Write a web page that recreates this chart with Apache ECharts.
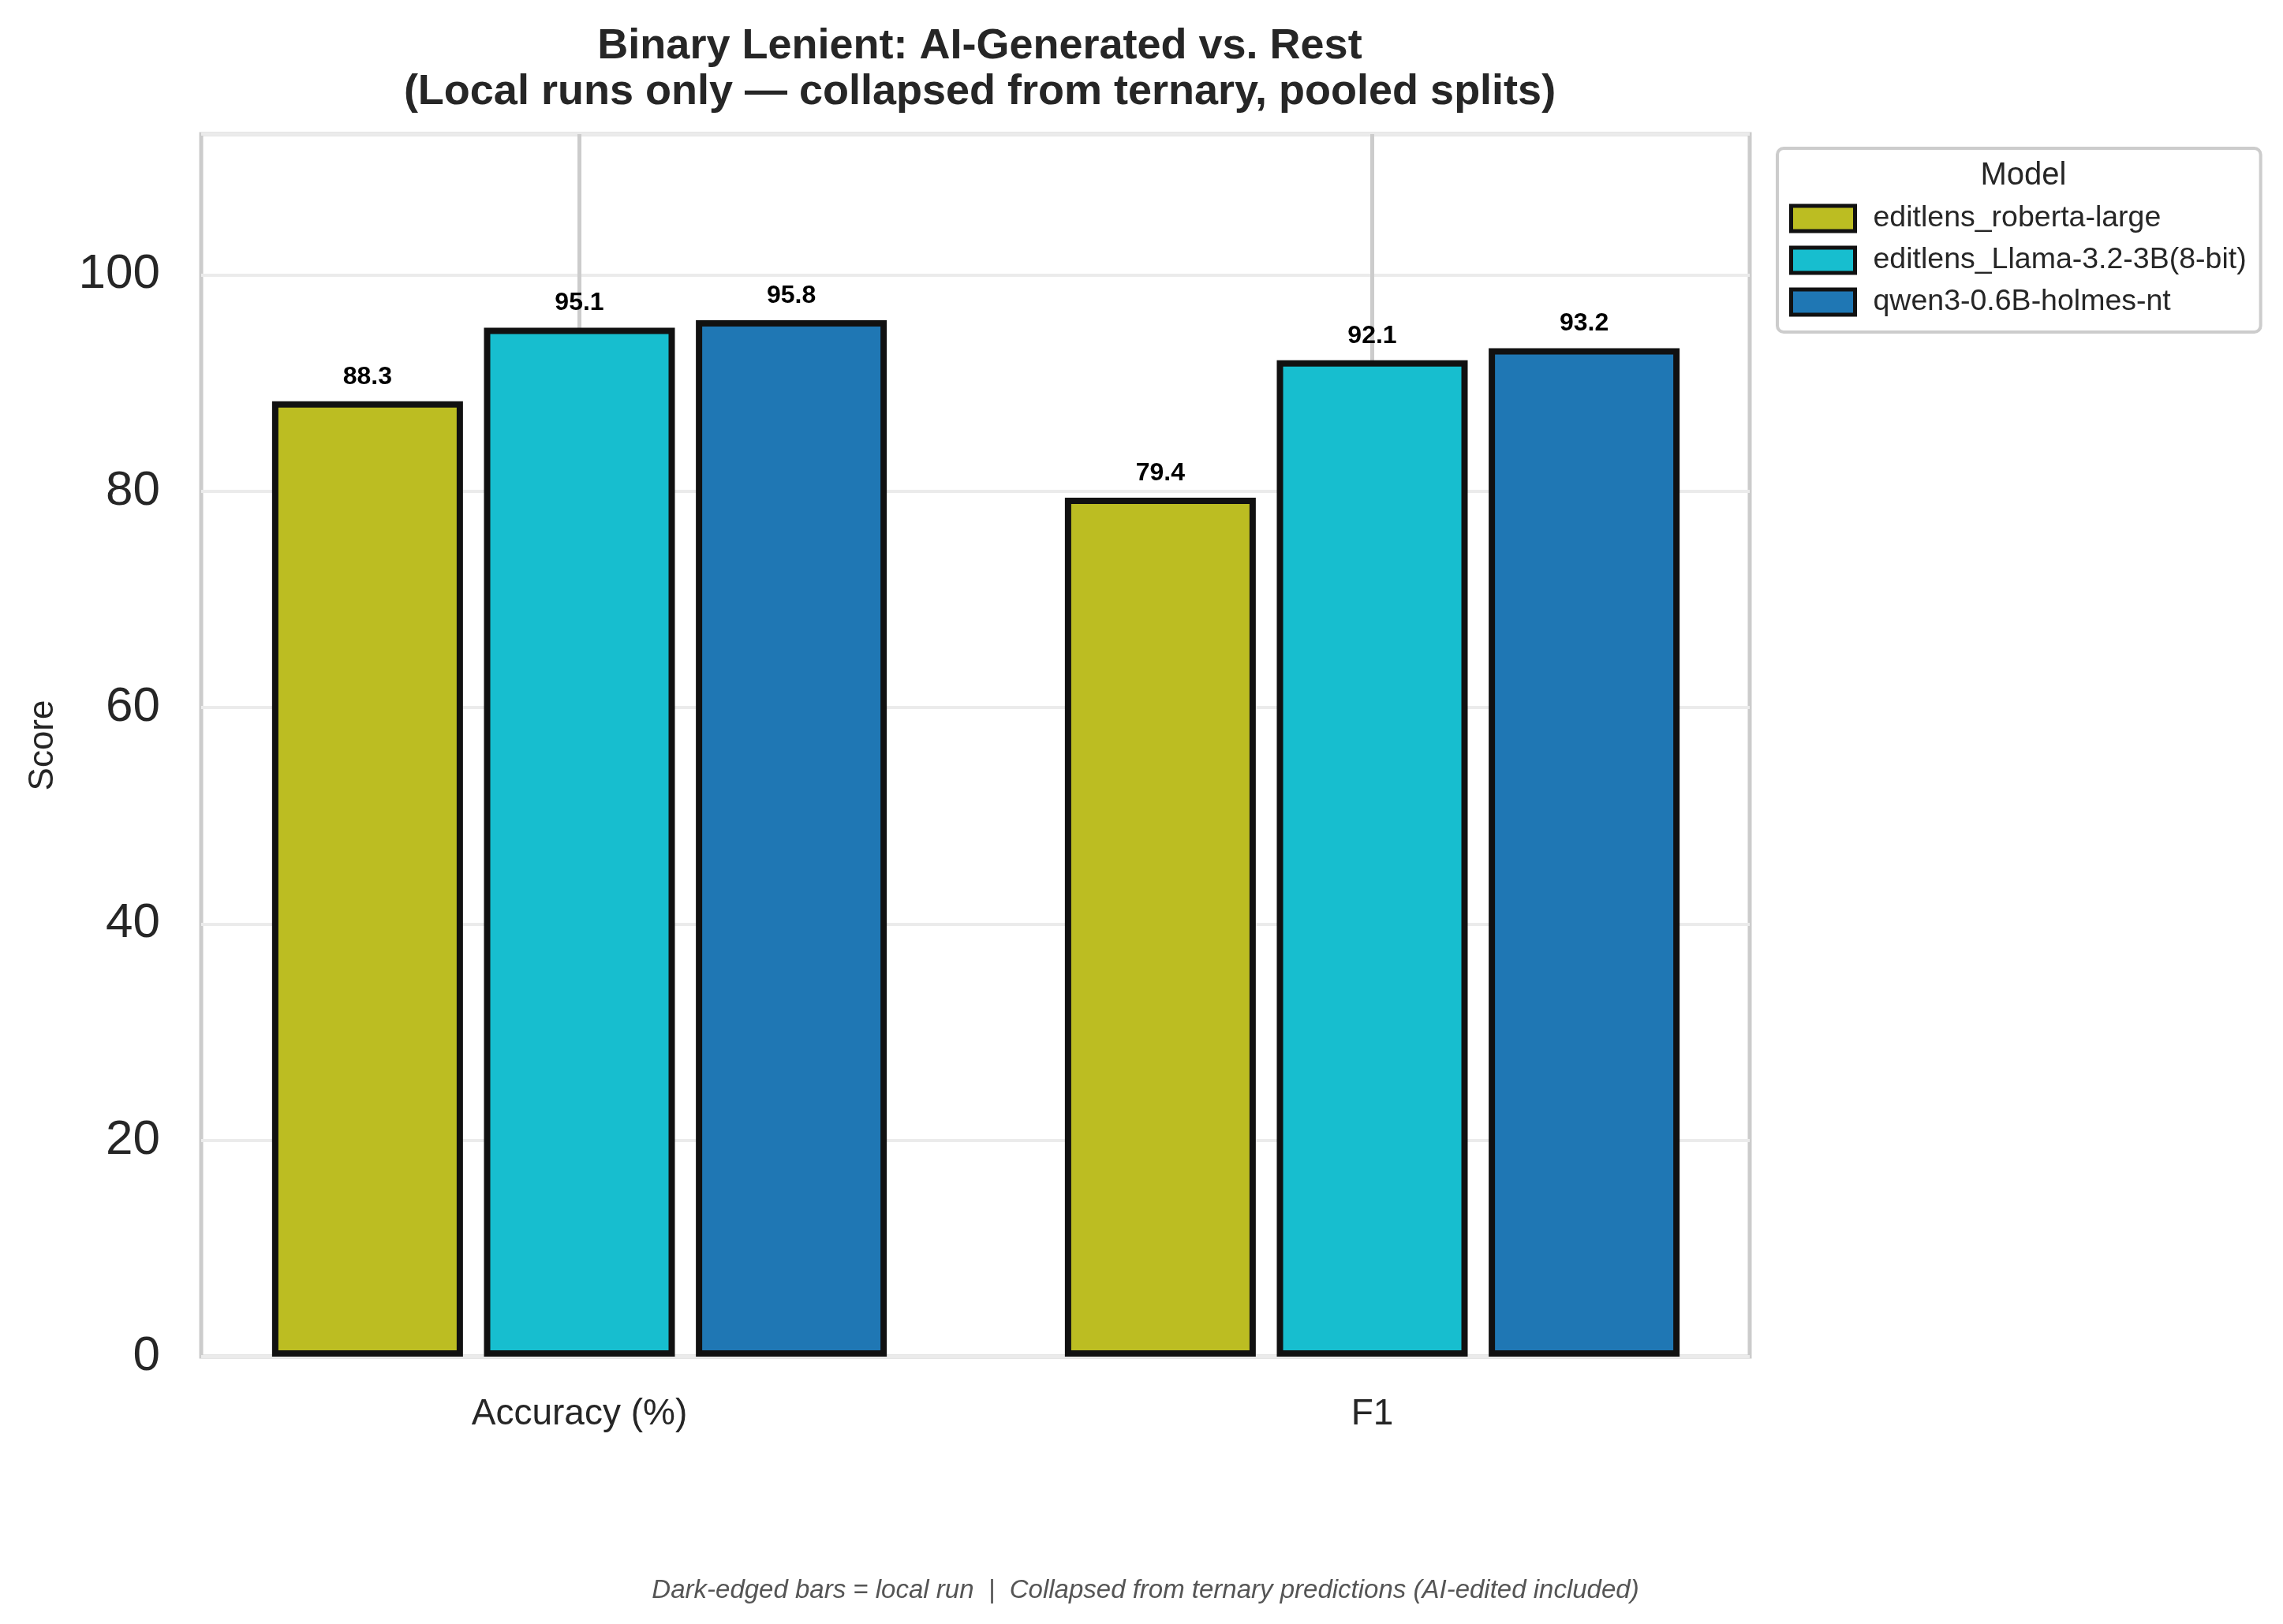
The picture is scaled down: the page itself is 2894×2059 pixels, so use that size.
<!DOCTYPE html>
<html>
<head>
    <meta charset="utf-8">
    <title>Binary Lenient</title>
    <script src="https://cdn.jsdelivr.net/npm/echarts@6/dist/echarts.min.js"></script>
    <style>
        html, body { margin: 0; padding: 0; background: #fff; }
        #main { width: 2894px; height: 2059px; }
    </style>
</head>
<body>
<div id="main"></div>
<script type="text/javascript">
    // data
    var categories = ['Accuracy (%)', 'F1'];
    var models = ['editlens_roberta-large', 'editlens_Llama-3.2-3B(8-bit)', 'qwen3-0.6B-holmes-nt'];
    var robertaVals = [88.3, 79.4];
    var llamaVals = [95.1, 92.1];
    var qwenVals = [95.8, 93.2];
    var colors = ['#bcbd22', '#17becf', '#1f77b4'];

    var font = 'Liberation Sans, Arial, sans-serif';
    var yMax = 113;

    function barSeries(name, vals, color) {
        return {
            name: name,
            type: 'bar',
            xAxisIndex: 1,
            yAxisIndex: 1,
            data: vals,
            barWidth: 242,
            barGap: '11%',
            itemStyle: {
                color: color,
                borderColor: '#111111',
                borderWidth: 8
            },
            label: {
                show: true,
                position: 'top',
                distance: 15,
                fontFamily: font,
                fontWeight: 'bold',
                fontSize: 32,
                color: '#000',
                formatter: function (p) { return p.value.toFixed(1); }
            }
        };
    }

    var myChart = echarts.init(document.getElementById('main'));

    var option = {
        backgroundColor: '#ffffff',
        animation: false,
        title: [{
            text: 'Binary Lenient: AI-Generated vs. Rest\n(Local runs only \u2014 collapsed from ternary, pooled splits)',
            left: 1237,
            top: 25,
            textAlign: 'center',
            textStyle: {
                fontFamily: font,
                fontWeight: 'bold',
                fontSize: 54,
                lineHeight: 58,
                color: '#262626'
            }
        }, {
            text: 'Model',
            left: 2560,
            top: 198,
            textAlign: 'center',
            textStyle: {
                fontFamily: font,
                fontWeight: 'normal',
                fontSize: 40,
                color: '#262626'
            }
        }, {
            text: 'Dark-edged bars = local run  |  Collapsed from ternary predictions (AI-edited included)',
            left: 1447,
            top: 1995,
            textAlign: 'center',
            textStyle: {
                fontFamily: font,
                fontWeight: 'normal',
                fontStyle: 'italic',
                fontSize: 33,
                color: '#555555'
            }
        }],
        legend: {
            data: models,
            orient: 'vertical',
            left: 2253,
            top: 188,
            padding: [70, 18, 19, 15],
            itemWidth: 81,
            itemHeight: 32,
            itemGap: 15,
            icon: 'rect',
            borderColor: '#cccccc',
            borderWidth: 4,
            borderRadius: 8,
            itemStyle: {
                borderColor: '#111111',
                borderWidth: 5
            },
            textStyle: {
                fontFamily: font,
                fontSize: 37.5,
                color: '#262626',
                padding: [0, 0, 0, 18]
            }
        },
        grid: [{
            // frame and y axis
            left: 255,
            top: 170,
            width: 1963,
            height: 1550,
            show: true,
            borderColor: '#cccccc',
            borderWidth: 5
        }, {
            // bars, categories centred where the reference has them
            left: 232,
            top: 170,
            width: 2010,
            height: 1550,
            show: false
        }],
        xAxis: [{
            gridIndex: 0,
            type: 'value',
            show: false
        }, {
            gridIndex: 1,
            type: 'category',
            data: categories,
            axisLine: { show: false },
            axisTick: { show: false },
            axisLabel: {
                fontFamily: font,
                fontSize: 46,
                color: '#262626',
                margin: 50
            },
            splitLine: {
                show: true,
                alignWithLabel: true,
                lineStyle: { color: '#cccccc', width: 5 }
            }
        }],
        yAxis: [{
            gridIndex: 0,
            type: 'value',
            min: 0,
            max: yMax,
            interval: 20,
            name: 'Score',
            nameLocation: 'middle',
            nameRotate: 90,
            nameGap: 178,
            nameTextStyle: {
                fontFamily: font,
                fontSize: 44,
                color: '#262626'
            },
            axisLine: { show: false },
            axisTick: { show: false },
            axisLabel: {
                fontFamily: font,
                fontSize: 62,
                color: '#262626',
                margin: 52,
                showMaxLabel: false
            },
            splitLine: {
                show: true,
                lineStyle: { color: '#ebebeb', width: 4 }
            }
        }, {
            gridIndex: 1,
            type: 'value',
            min: 0,
            max: yMax,
            show: false,
            splitLine: { show: false }
        }],
        series: [
            barSeries(models[0], robertaVals, colors[0]),
            barSeries(models[1], llamaVals, colors[1]),
            barSeries(models[2], qwenVals, colors[2])
        ]
    };

    myChart.setOption(option);
</script>
</body>
</html>
